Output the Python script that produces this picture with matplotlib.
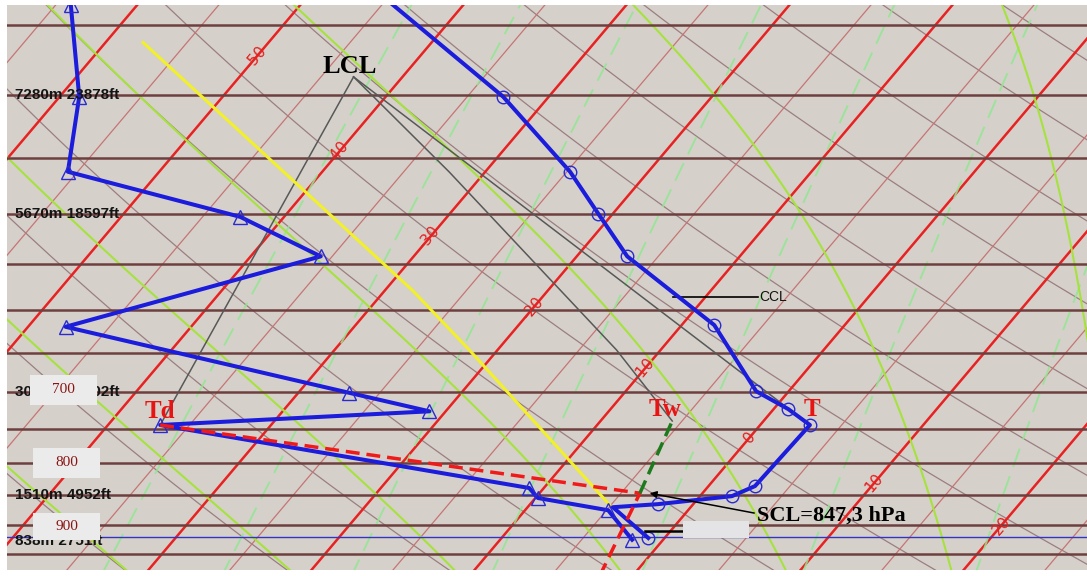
import numpy as np
import matplotlib
matplotlib.use("Agg")
import matplotlib.pyplot as plt
from matplotlib.patches import Rectangle
from matplotlib.ticker import NullLocator
from matplotlib.transforms import blended_transform_factory

# ---------------- diagram geometry (skew-T, log-p) ----------------
P_REF = 1000.0
SKEW = 27.5          # degC of x-shift per unit of ln(P_REF/p)
X_MIN, X_MAX = -38.1, 28.14
P_BOT, P_TOP = 979.4, 337.3


def skew_x(t, p):
    return np.asarray(t, dtype=float) + SKEW * np.log(P_REF / np.asarray(p, dtype=float))


# ---------------- sounding ----------------
temp_p = [300, 401, 462, 500, 542, 617, 699, 723, 745, 836, 852, 865, 870, 922]
temp_c = [-52.1, -32.8, -24.8, -20.9, -16.9, -8.0, -2.0, 0.9, 3.05, 2.85, 1.96, -2.17, -4.77, -1.0]
temp_marked = [1, 2, 3, 4, 5, 6, 7, 8, 9, 10, 11, 13]

dewp_p = [300, 337, 401, 462, 503, 542, 619, 701, 726, 745, 839, 855, 875, 925]
dewp_c = [-67.7, -64.1, -58.8, -55.6, -42.7, -35.7, -47.7, -26.9, -21.0, -36.8, -10.9, -9.85, -4.9, -1.9]
dewp_marked = [1, 2, 3, 4, 5, 6, 7, 8, 9, 10, 11, 12, 13]

surface_p = 920.6

# Normand construction from the 745 hPa level
level_p = 745.0
level_t = 3.05
level_td = -36.8
lcl_t, lcl_p = -43.0, 386.3
wet_path_t = [-43.0, -32.2, -12.7, -5.6]
wet_path_p = [386.3, 462.2, 646.7, 739.4]
tw_t, tw_p = -5.6, 739.4

# saturation / condensation levels
scl_t, scl_p = -3.84, 847.3
base_t, base_p = -1.9, 1000.0
ccl_p = 585.0

# pseudo-adiabat through the low-level parcel
yellow_t = [-57.7, -28.3, -21.7, -5.1]
yellow_p = [362, 578, 647, 866]

# background line sets
isotherms = np.arange(-130, 45, 5)
dry_theta_c = np.arange(-40, 210, 10)
moist_thetaw = np.arange(-30, 40, 10)
mix_ratios = [0.25, 0.5, 1, 2, 4, 8, 16]

iso_label_t = [-50, -40, -30, -20, -10, 0, 10, 20]
iso_label_p = [372.6, 445.8, 523.6, 597.7, 671.5, 762.5, 830.5, 900.5]

height_p = [400, 500, 700, 850, 927]
height_txt = ["7280m 23878ft", "5670m 18597ft", "3049m 10002ft", "1510m 4952ft", "838m 2751ft"]

box_levels = [700, 800, 900]


def moist_adiabat(thw_c, p_levels):
    rd, cp, lv, eps = 287.04, 1005.7, 2.501e6, 0.622

    def rate(t, p):
        tc = t - 273.15
        es = 6.112 * np.exp(17.67 * tc / (tc + 243.5))
        rs = eps * es / (p - es)
        return (rd * t + lv * rs) / (p * (cp + lv * lv * rs * eps / (rd * t * t)))

    t = thw_c + 273.15
    out = [t]
    for p0, p1 in zip(p_levels[:-1], p_levels[1:]):
        dp = p1 - p0
        k1 = rate(t, p0)
        k2 = rate(t + 0.5 * k1 * dp, p0 + 0.5 * dp)
        t = t + k2 * dp
        out.append(t)
    return np.array(out) - 273.15


def mixing_td(w, p):
    e = w * p / (622.0 + w)
    a = np.log(e / 6.112)
    return 243.5 * a / (17.67 - a)


# ---------------- figure ----------------
W, H = 1087, 576
fig = plt.figure(figsize=(W / 100, H / 100), dpi=100, facecolor="white")
ax = fig.add_axes([7 / W, 6 / H, (W - 7) / W, 565 / H])
ax.set_facecolor("#d5d1ca")
ax.set_yscale("log")
ax.set_xlim(X_MIN, X_MAX)
ax.set_ylim(P_BOT, P_TOP)
ax.yaxis.set_minor_locator(NullLocator())
ax.yaxis.set_major_locator(NullLocator())
ax.xaxis.set_major_locator(NullLocator())
for s in ax.spines.values():
    s.set_visible(False)

pp = np.geomspace(1050, 250, 200)

# dry adiabats
for th in dry_theta_c:
    t = (th + 273.15) * (pp / 1000.0) ** 0.2857 - 273.15
    ax.plot(skew_x(t, pp), pp, color="#9c7e80", lw=0.9, zorder=1)

# isotherms
for t in isotherms:
    thick = (t % 10 == 0)
    ax.plot(skew_x(np.full_like(pp, t), pp), pp,
            color="#e82222" if thick else "#c77474",
            lw=1.8 if thick else 0.9, zorder=2)

# mixing-ratio lines
for w in mix_ratios:
    ax.plot(skew_x(mixing_td(w, pp), pp), pp, color="#93e693", lw=1.4,
            dashes=(10, 5), alpha=0.85, zorder=2)

# moist adiabats
pm = np.linspace(1000, 250, 400)
for thw in moist_thetaw:
    ax.plot(skew_x(moist_adiabat(thw, pm), pm), pm, color="#a6e23e", lw=1.5, zorder=2)

# isobars
for p in np.arange(350, 1001, 50):
    ax.axhline(p, color="#6e3f3f", lw=1.8, zorder=3)

# surface level
ax.axhline(surface_p, color="#3434c4", lw=1.0, zorder=3)

# isotherm labels, rotated along the lines
for t, p in zip(iso_label_t, iso_label_p):
    x0 = skew_x(t, p)
    a = ax.transData.transform((skew_x(t, p * 1.05), p * 1.05))
    b = ax.transData.transform((skew_x(t, p / 1.05), p / 1.05))
    ang = np.degrees(np.arctan2(b[1] - a[1], b[0] - a[0]))
    ax.text(x0, p, f"{t}", color="#e42020", fontsize=11, rotation=ang,
            rotation_mode="anchor", ha="center", va="center", zorder=4,
            family="DejaVu Sans")

# Normand construction lines
ax.plot(skew_x([level_t, lcl_t], [level_p, lcl_p]), [level_p, lcl_p],
        color="#585858", lw=1.1, zorder=5)
ax.plot(skew_x([level_td, lcl_t], [level_p, lcl_p]), [level_p, lcl_p],
        color="#585858", lw=1.1, zorder=5)
ax.plot(skew_x(wet_path_t, wet_path_p), wet_path_p, color="#585858", lw=1.1, zorder=5)

# pseudo-adiabat
ax.plot(skew_x(yellow_t, yellow_p), yellow_p, color="#f2f028", lw=2.2, zorder=5)

# CCL marker
ccl_t = np.interp(np.log(ccl_p), np.log(temp_p), temp_c)
ccl_x = float(skew_x(ccl_t, ccl_p))
ax.plot([ccl_x - 0.35, ccl_x + 4.9], [ccl_p, ccl_p], color="black", lw=1.2, zorder=6)
ax.text(ccl_x + 4.95, ccl_p, "CCL", fontsize=10, family="Liberation Sans",
        ha="left", va="center", color="#111111", zorder=6)

# sounding profiles
blue = "#1c1cdc"
tx = skew_x(temp_c, temp_p)
dx = skew_x(dewp_c, dewp_p)
ax.plot(tx, temp_p, color=blue, lw=2.9, zorder=7, solid_joinstyle="round")
ax.plot(dx, dewp_p, color=blue, lw=2.9, zorder=7, solid_joinstyle="round")
ax.plot(tx[temp_marked], np.array(temp_p)[temp_marked], ls="none", marker="o",
        ms=9, mfc="none", mec="#2a2ad0", mew=1.0, zorder=8)
ax.plot(dx[dewp_marked], np.array(dewp_p)[dewp_marked], ls="none", marker="^",
        ms=10.5, mfc="none", mec="#2a2ad0", mew=1.0, zorder=8)

# Td -> SCL -> base (red dashed) and SCL -> Tw (green dashed)
ax.plot(skew_x([level_td, scl_t, base_t], [level_p, scl_p, base_p]),
        [level_p, scl_p, base_p], color="#f01a1a", lw=2.5, dashes=(4, 2), zorder=9)
ax.plot(skew_x([scl_t, tw_t], [scl_p, tw_p]), [scl_p, tw_p],
        color="#1d7a1d", lw=2.5, dashes=(4, 2), zorder=9)

# point labels
serif = "Liberation Serif"
ax.annotate("LCL", (skew_x(lcl_t, lcl_p), lcl_p), xytext=(-3, 7.5),
            textcoords="offset points", ha="center", va="center", fontsize=19,
            fontweight="bold", family=serif, color="black", zorder=10)
ax.annotate("Td", (skew_x(level_td, level_p), level_p), xytext=(0, 10),
            textcoords="offset points", ha="center", va="center", fontsize=18,
            fontweight="bold", family=serif, color="#e81414", zorder=10)
ax.annotate("T", (skew_x(level_t, level_p), level_p), xytext=(1.5, 11),
            textcoords="offset points", ha="center", va="center", fontsize=18,
            fontweight="bold", family=serif, color="#e81414", zorder=10)
ax.annotate("Tw", (skew_x(tw_t, tw_p), tw_p), xytext=(-5, 8),
            textcoords="offset points", ha="center", va="center", fontsize=18,
            fontweight="bold", family=serif, color="#e81414", zorder=10)

# SCL annotation
ax.annotate("SCL=847,3 hPa", xy=(float(skew_x(scl_t, scl_p)) + 0.6, scl_p),
            xytext=(7.9, 884.5), ha="left", va="center", fontsize=16,
            fontweight="bold", family=serif, color="black", zorder=10,
            arrowprops=dict(arrowstyle="-|>", color="black", lw=1.1,
                            shrinkA=0, shrinkB=0, mutation_scale=10,
                            relpos=(0.0, 0.62)))

# short marker line and blank tag near the surface
ax.plot([1.0, 3.3], [910, 910], color="black", lw=1.8, zorder=9)
ax.add_patch(Rectangle((0.626, 0.0566), 0.0614, 0.0301, transform=ax.transAxes,
                       facecolor="#e4e4e6", edgecolor="none", zorder=9))

# height labels on the left
bt = blended_transform_factory(ax.transAxes, ax.transData)
for p, s in zip(height_p, height_txt):
    ax.text(0.0074, p, s, transform=bt, ha="left", va="center", fontsize=11,
            fontweight="bold", family="Liberation Sans", color="#141414", zorder=10)

# pressure boxes
box_spans = {700: (0.0213, 677.9, 717.4), 800: (0.0241, 778.0, 823.3), 900: (0.0241, 879.5, 925.4)}
for lev in box_levels:
    x0, p_lo, p_hi = box_spans[lev]
    ax.add_patch(Rectangle((x0, p_lo), 0.0622, p_hi - p_lo, transform=bt,
                           facecolor="#ebebeb", edgecolor="none", zorder=11))
    ax.text(x0 + 0.0311, np.sqrt(p_lo * p_hi), f"{lev}", transform=bt,
            ha="center", va="center", fontsize=11, family=serif,
            color="#8a1414", zorder=12)

fig.savefig("out.png", dpi=100, facecolor="white")
